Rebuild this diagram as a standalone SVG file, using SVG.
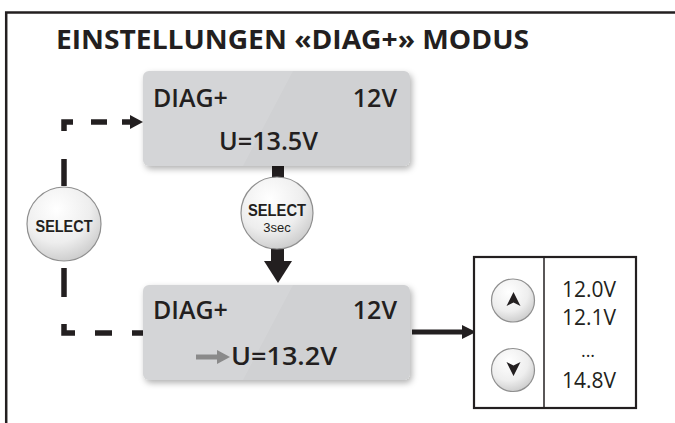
<svg xmlns="http://www.w3.org/2000/svg" width="675" height="423" viewBox="0 0 675 423">
<defs>
<style>
.t{font-family:"Open Sans","Liberation Sans",sans-serif;fill:#231f20}
.s{font-family:"Liberation Sans","Open Sans",sans-serif;fill:#231f20}
.sb{font-weight:600}
.b{font-weight:700}
.dash{fill:none;stroke:#231f20;stroke-width:5.5;stroke-linejoin:miter;stroke-linecap:butt}
.box{fill:#d0d1d3}
.btn{fill:url(#bg);stroke:#8f8f8f;stroke-width:1.2}
</style>
<radialGradient id="bg" cx="0.4" cy="0.3" r="0.75">
<stop offset="0" stop-color="#ffffff"/>
<stop offset="0.6" stop-color="#eeeeee"/>
<stop offset="1" stop-color="#c9c9c9"/>
</radialGradient>
<filter id="sh" x="-10%" y="-10%" width="130%" height="140%">
<feDropShadow dx="2" dy="3" stdDeviation="3" flood-color="#000" flood-opacity="0.3"/>
</filter>
<clipPath id="c1"><rect x="143" y="71" width="267" height="95" rx="6"/></clipPath>
<clipPath id="c2"><rect x="143" y="285" width="267" height="95" rx="6"/></clipPath>
</defs>
<rect width="675" height="423" fill="#fff"/>
<g id="frame" fill="none" stroke="#231f20">
<path d="M6.2,423 V12.5 H675" stroke-width="2.5"/>
</g>
<text id="title" class="t b" x="56" y="49" font-size="27" textLength="473" lengthAdjust="spacingAndGlyphs">EINSTELLUNGEN «DIAG+» MODUS</text>

<g id="connectors">
<path class="dash" d="M64,131 V122 H73"/>
<path class="dash" d="M91,122 H107"/>
<path class="dash" d="M122,122 H132"/>
<polygon points="130,115 143,122 130,129" fill="#231f20"/>
<path class="dash" d="M64,159 V186"/>
<path class="dash" d="M64,268 V297"/>
<path class="dash" d="M64,324 V333 H75"/>
<path class="dash" d="M95,333 H112"/>
<path class="dash" d="M132,333 H143"/>
<rect x="272" y="164" width="12" height="15" fill="#231f20"/>
<rect x="271" y="247" width="13" height="15" fill="#231f20"/>
<polygon points="264,261 292,261 278,283" fill="#231f20"/>
<line x1="412" y1="332" x2="464" y2="332" stroke="#231f20" stroke-width="5"/>
<polygon points="462,325 476,332 462,339" fill="#231f20"/>
</g>

<g id="box-top">
<rect class="box" x="143" y="71" width="267" height="95" rx="6" filter="url(#sh)"/>
<polygon points="143,71 293,71 243,166 143,166" fill="#fff" opacity="0.1" clip-path="url(#c1)"/>
<text class="t sb" x="153" y="107" font-size="25">DIAG+</text>
<text class="t sb" x="397" y="107" font-size="25" text-anchor="end">12V</text>
<text class="t sb" x="219" y="150" font-size="25" textLength="99" lengthAdjust="spacingAndGlyphs">U=13.5V</text>
</g>

<g id="box-bottom">
<rect class="box" x="143" y="285" width="267" height="95" rx="6" filter="url(#sh)"/>
<polygon points="143,285 293,285 243,380 143,380" fill="#fff" opacity="0.1" clip-path="url(#c2)"/>
<text class="t sb" x="153" y="319" font-size="25">DIAG+</text>
<text class="t sb" x="397" y="319" font-size="25" text-anchor="end">12V</text>
<line x1="196" y1="357" x2="219" y2="357" stroke="#8a8a8a" stroke-width="5"/>
<polygon points="217,350 230,357 217,364" fill="#8a8a8a"/>
<text class="t sb" x="231" y="365" font-size="25" textLength="106" lengthAdjust="spacingAndGlyphs">U=13.2V</text>
</g>

<g id="select-left">
<circle class="btn" cx="64" cy="224" r="37"/>
<text class="s b" x="64" y="232" font-size="17" text-anchor="middle" textLength="57" lengthAdjust="spacingAndGlyphs">SELECT</text>
</g>

<g id="select-3sec">
<circle class="btn" cx="277" cy="213" r="36"/>
<text class="s b" x="277" y="216" font-size="17" text-anchor="middle" textLength="58" lengthAdjust="spacingAndGlyphs">SELECT</text>
<text class="s" x="277" y="232" font-size="13" text-anchor="middle">3sec</text>
</g>

<g id="panel">
<rect x="474" y="257" width="162" height="151" fill="#fff" stroke="#231f20" stroke-width="2.2"/>
<line x1="544" y1="257" x2="544" y2="408" stroke="#231f20" stroke-width="1.5"/>
<circle class="btn" cx="513" cy="300.5" r="21.5"/>
<polygon points="513.5,292 520.5,306 513.5,302.5 506.5,306" fill="#231f20"/>
<circle class="btn" cx="513" cy="370" r="21.5"/>
<polygon points="513.5,376 520.5,362 513.5,365.5 506.5,362" fill="#231f20"/>
<text class="t" x="562" y="297" font-size="22" textLength="54" lengthAdjust="spacingAndGlyphs">12.0V</text>
<text class="t" x="562" y="325" font-size="22" textLength="54" lengthAdjust="spacingAndGlyphs">12.1V</text>
<text class="t" x="588" y="357" font-size="18" text-anchor="middle">...</text>
<text class="t" x="562" y="388" font-size="22" textLength="54" lengthAdjust="spacingAndGlyphs">14.8V</text>
</g>
</svg>
